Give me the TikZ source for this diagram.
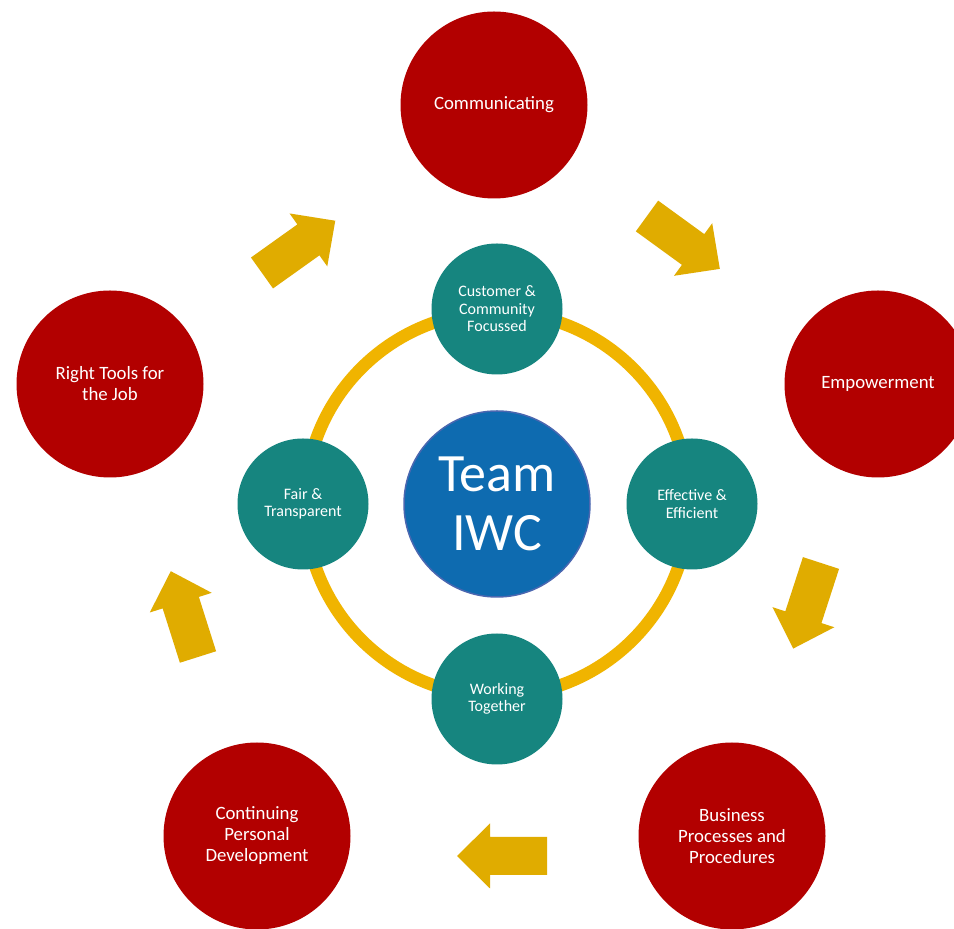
\documentclass[tikz,border=0pt]{standalone}
\usepackage{fontspec}
\setmainfont{Carlito}
\definecolor{redc}{HTML}{B20000}
\definecolor{tealc}{HTML}{16857F}
\definecolor{bluec}{HTML}{0E6BB0}
\definecolor{bluebd}{HTML}{4A67B0}
\definecolor{ringc}{HTML}{F0B400}
\definecolor{arrc}{HTML}{E0AC00}
\tikzset{
  redcirc/.style={circle, fill=redc, minimum size=187pt, inner sep=0pt, text=white, align=center, font=\fontsize{18.8}{21}\selectfont},
  tealcirc/.style={circle, fill=tealc, minimum size=131pt, inner sep=0pt, text=white, align=center, font=\fontsize{16}{17.5}\selectfont},
  bluecirc/.style={circle, fill=bluec, draw=bluebd, line width=1.5pt, minimum size=186pt, inner sep=0pt, text=white, align=center, font=\fontsize{54}{59}\selectfont},
  blockarr/.style={fill=arrc, draw=none}
}
\newcommand{\blockarrow}[3]{%
  \begin{scope}[shift={(#1,#2)}, rotate=#3]
    \fill[blockarr] (0,-19) -- (57,-19) -- (57,-32.5) -- (90,0) -- (57,32.5) -- (57,19) -- (0,19) -- cycle;
  \end{scope}}
\begin{document}
\begin{tikzpicture}[x=1pt,y=1pt]
\useasboundingbox (0,0) rectangle (954,929);
\clip (0,0) rectangle (954,929);
\fill[white] (0,0) rectangle (954,929);
% ring
\draw[ringc, line width=12.5pt] (497,425) circle[radius=192];
% outer red circles
\node[redcirc] (comm) at (494,824) {Communicating};
\node[redcirc] (emp) at (878,545) {Empowerment};
\node[redcirc] (bus) at (732,93) {Business\\Processes and\\Procedures};
\node[redcirc] (cont) at (257,93) {Continuing\\Personal\\Development};
\node[redcirc] (tools) at (110,545) {Right Tools for\\the Job};
% teal circles
\node[tealcirc] (cust) at (497,620) {Customer \&\\Community\\Focussed};
\node[tealcirc] (eff) at (692,425) {Effective \&\\Efficient};
\node[tealcirc] (work) at (497,230) {Working\\Together};
\node[tealcirc] (fair) at (303,425) {Fair \&\\Transparent};
% centre
\node[bluecirc] (team) at (497,425) {Team\\IWC};
% block arrows
\blockarrow{262}{656}{35.5}
\blockarrow{647}{713}{-36}
\blockarrow{821}{366}{-108}
\blockarrow{547}{73}{180}
\blockarrow{198}{272}{107.6}
\end{tikzpicture}
\end{document}
